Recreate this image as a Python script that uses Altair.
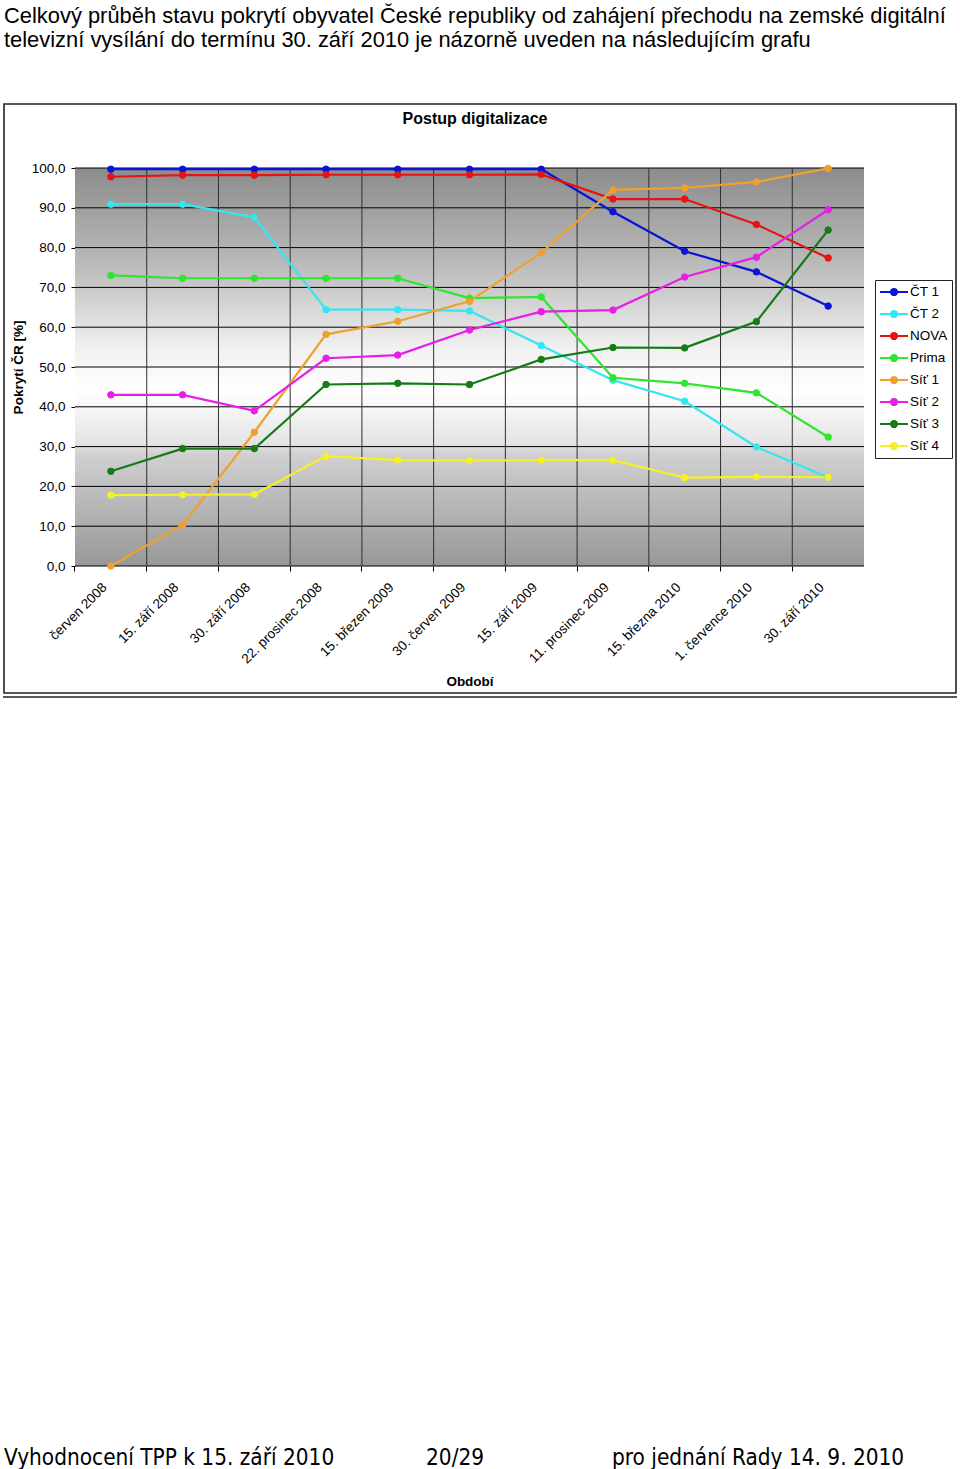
import altair as alt
import pandas as pd

# ---------------- data ----------------
categories = [
    "červen 2008", "15. září 2008", "30. září 2008", "22. prosinec 2008",
    "15. březen 2009", "30. červen 2009", "15. září 2009", "11. prosinec 2009",
    "15. března 2010", "1. července 2010", "30. září 2010",
]
series_names = ["ČT 1", "ČT 2", "NOVA", "Prima", "Síť 1", "Síť 2", "Síť 3", "Síť 4"]
series_colors = ["#0a14d2", "#33e6f0", "#e61414", "#2ee62e", "#f0a030", "#e61ee6", "#167a16", "#f5f028"]

ct1 = [99.7, 99.7, 99.7, 99.7, 99.7, 99.7, 99.7, 89.0, 79.1, 73.9, 65.3]
ct2 = [90.9, 90.9, 87.6, 64.4, 64.4, 64.1, 55.4, 46.7, 41.4, 29.9, 22.3]
nova = [97.8, 98.2, 98.2, 98.3, 98.3, 98.3, 98.4, 92.2, 92.2, 85.8, 77.4]
prima = [73.0, 72.3, 72.3, 72.3, 72.3, 67.3, 67.6, 47.3, 45.9, 43.5, 32.4]
sit1 = [0.0, 10.3, 33.6, 58.2, 61.5, 66.5, 78.7, 94.5, 95.0, 96.5, 99.9]
sit2 = [43.0, 43.0, 39.0, 52.2, 53.0, 59.3, 63.9, 64.3, 72.6, 77.6, 89.5]
sit3 = [23.8, 29.5, 29.5, 45.6, 45.9, 45.6, 51.9, 54.9, 54.8, 61.4, 84.4]
sit4 = [17.8, 17.9, 18.0, 27.6, 26.6, 26.5, 26.6, 26.6, 22.2, 22.4, 22.3]

y_ticks = [0, 10, 20, 30, 40, 50, 60, 70, 80, 90, 100]

intro_lines = [
    "Celkový průběh stavu pokrytí obyvatel České republiky od zahájení přechodu na zemské digitální",
    "televizní vysílání do termínu 30. září 2010 je názorně uveden na následujícím grafu",
]
chart_title = "Postup digitalizace"
footer_left = "Vyhodnocení TPP k 15. září 2010"
footer_mid = "20/29"
footer_right = "pro jednání Rady 14. 9. 2010"

rows = []
for name, vals in zip(series_names, [ct1, ct2, nova, prima, sit1, sit2, sit3, sit4]):
    for c, v in zip(categories, vals):
        rows.append({"series": name, "period": c, "value": v})
df = pd.DataFrame(rows)

FONT = "Liberation Sans"
W, H = 789, 398

x_scale = alt.Scale(type="band", domain=categories, paddingInner=0, paddingOuter=0)
y_scale = alt.Scale(domain=[0, 100], nice=False)
col_scale = alt.Scale(domain=series_names, range=series_colors)

x_axis = alt.Axis(
    title="Období", labelAngle=-45, bandPosition=0, labelOffset=-11,
    tickSize=5, labelPadding=9, domain=False, grid=False,
    titleY=108, tickColor="black",
)
y_axis = alt.Axis(
    title="Pokrytí ČR [%]", values=y_ticks,
    labelExpr="replace(format(datum.value, '.1f'), '.', ',')",
    tickSize=4, labelPadding=6, domain=False, grid=False, titlePadding=6,
    tickColor="black",
)

x_enc = alt.X("period:N", scale=x_scale, bandPosition=0.5, axis=x_axis)
y_enc = alt.Y("value:Q", scale=y_scale, axis=y_axis)

one = alt.Data(values=[{}])

bg = alt.Chart(one).mark_rect(
    fill=alt.LinearGradient(
        gradient="linear",
        stops=[
            alt.GradientStop(offset=0.0, color="#8c8c8c"),
            alt.GradientStop(offset=0.25, color="#bcbcbc"),
            alt.GradientStop(offset=0.45, color="#f0f0f0"),
            alt.GradientStop(offset=0.56, color="#ffffff"),
            alt.GradientStop(offset=0.69, color="#e4e4e4"),
            alt.GradientStop(offset=0.72, color="#d0d0d0"),
            alt.GradientStop(offset=1.0, color="#989898"),
        ],
        x1=0, x2=0, y1=0, y2=1,
    )
).encode(x=alt.value(0), x2=alt.value(W), y=alt.value(0), y2=alt.value(H))

hgrid = alt.Chart(pd.DataFrame({"value": y_ticks})).mark_rule(color="black", strokeWidth=1).encode(
    y=y_enc
)
vgrid = alt.Chart(pd.DataFrame({"period": categories[1:]})).mark_rule(color="#303030", strokeWidth=1).encode(
    x=alt.X("period:N", scale=x_scale, bandPosition=0, axis=x_axis)
)

leg = alt.Legend(
    title=None, orient="none", legendX=800, legendY=112,
    symbolType="M-2,0L2,0M-0.44,0A0.44,0.44 0 1,1 0.44,0A0.44,0.44 0 1,1 -0.44,0Z",
    symbolSize=196, symbolStrokeWidth=2, symbolOpacity=1, symbolOffset=7,
    labelFont=FONT, labelFontSize=13.5, labelColor="black", labelOffset=8,
    strokeColor="#222222", fillColor="white", padding=4, rowPadding=6,
)

lines = alt.Chart(df).mark_line(strokeWidth=2.2).encode(
    x=x_enc, y=y_enc,
    stroke=alt.Stroke("series:N", scale=col_scale, legend=leg),
    detail="series:N",
)
points = alt.Chart(df).mark_point(filled=True, size=42, strokeWidth=1, opacity=1).encode(
    x=x_enc, y=y_enc,
    fill=alt.Fill("series:N", scale=col_scale, legend=leg),
    stroke=alt.Stroke("series:N", scale=col_scale, legend=leg),
)

frame = alt.Chart(one).mark_rect(fill="white", fillOpacity=0, stroke="#222222", strokeWidth=1.6).encode(
    x=alt.value(-71), x2=alt.value(881), y=alt.value(-64), y2=alt.value(525)
)
under = alt.Chart(one).mark_rule(color="#222222", strokeWidth=1.5).encode(
    x=alt.value(-72), x2=alt.value(882), y=alt.value(529)
)


def txt(s, x, y, size, font=FONT, weight="normal", align="left"):
    return alt.Chart(one).mark_text(
        text=s, font=font, fontSize=size, fontWeight=weight, align=align,
        baseline="alphabetic", color="black",
    ).encode(x=alt.value(x), y=alt.value(y))


FOOT_FONT = "DejaVu Sans Condensed, Liberation Sans Narrow, DejaVu Sans"
texts = [
    txt(intro_lines[0], -71, -145, 21.9),
    txt(intro_lines[1], -71, -121, 21.9),
    txt(chart_title, 400, -44, 16, weight="bold", align="center"),
    txt(footer_left, -71, 1297, 22.4, font=FOOT_FONT),
    txt(footer_mid, 351, 1297, 22.4, font=FOOT_FONT),
    txt(footer_right, 537, 1297, 22.4, font=FOOT_FONT),
]

chart = alt.layer(bg, hgrid, vgrid, lines, points, frame, under, *texts).properties(
    width=W, height=H,
    autosize=alt.AutoSizeParams(type="none"),
    padding={"left": 75, "top": 168, "right": 96, "bottom": 903},
    background="white",
).configure_view(strokeWidth=0).configure_axis(
    labelFont=FONT, labelFontSize=13.5, labelColor="black",
    titleFont=FONT, titleFontSize=13.5, titleFontWeight="bold", titleColor="black",
)

chart.save("out.html", embed_options={"renderer": "svg", "actions": False})
